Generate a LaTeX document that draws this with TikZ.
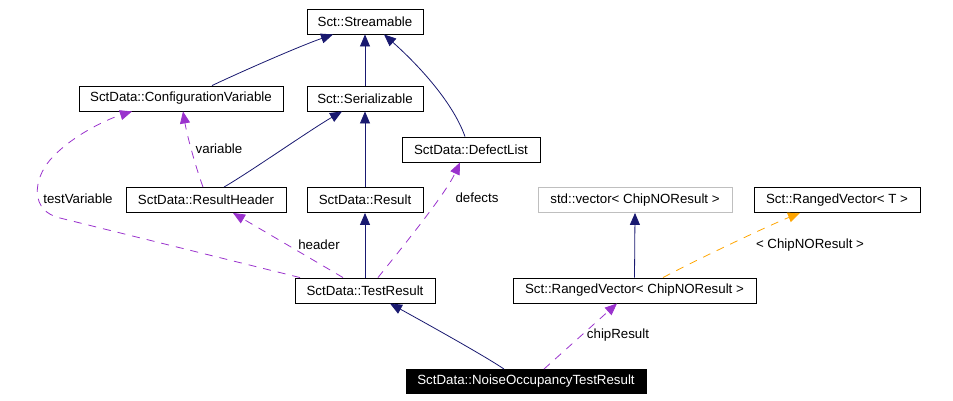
\documentclass[tikz,border=0pt]{standalone}
\usepackage{fontspec}
\setmainfont{Liberation Sans}
\usetikzlibrary{arrows.meta}
\definecolor{navy}{HTML}{191970}
\definecolor{orch}{HTML}{9A32CD}
\definecolor{orng}{HTML}{FFA500}
\definecolor{grayb}{HTML}{BFBFBF}
\tikzset{
  cls/.style={draw=black, line width=0.9pt, minimum height=25pt, inner sep=0pt, font=\fontsize{13.3}{16}\selectfont, fill=white},
  lbl/.style={inner sep=0pt, font=\fontsize{13.3}{16}\selectfont},
  inh/.style={draw=navy, line width=0.8pt, -{Triangle[length=12pt,width=10pt]}},
  use/.style={draw=orch, line width=0.8pt, dash pattern=on 8pt off 7pt, -{Triangle[length=12pt,width=10pt]}},
  tpl/.style={draw=orng, line width=0.8pt, dash pattern=on 8pt off 7pt, -{Triangle[length=12pt,width=10pt]}},
}
\begin{document}
\begin{tikzpicture}[x=1pt,y=-1pt]
\useasboundingbox (0,0) rectangle (953,401);
\node[cls, minimum width=116pt] (stream) at (365,21.5) {Sct::Streamable};
\node[cls, minimum width=204pt] (config) at (181,98.5) {SctData::ConfigurationVariable};
\node[cls, minimum width=116pt] (serial) at (365,98.5) {Sct::Serializable};
\node[cls, minimum width=138pt] (defect) at (471,149.5) {SctData::DefectList};
\node[cls, minimum width=160pt] (rheader) at (206,200) {SctData::ResultHeader};
\node[cls, minimum width=116pt] (result) at (365,200) {SctData::Result};
\node[cls, draw=grayb, minimum width=194pt] (svec) at (635,200) {std::vector< ChipNOResult >};
\node[cls, minimum width=166pt] (rvT) at (837,200) {Sct::RangedVector< T >};
\node[cls, minimum width=140pt] (test) at (365,290.5) {SctData::TestResult};
\node[cls, minimum width=243pt] (rvC) at (634.5,290.5) {Sct::RangedVector< ChipNOResult >};
\node[cls, fill=black, text=white, minimum width=240pt, minimum height=24pt] (noise) at (526,381.5) {SctData::NoiseOccupancyTestResult};

% inheritance
\draw[inh] ([xshift=31pt]config.north) .. controls (245,70) and (300,46) .. ([xshift=-32pt]stream.south);
\draw[inh] (serial.north) -- (stream.south);
\draw[inh] ([xshift=-6pt]defect.north) .. controls (452,100) and (415,62) .. ([xshift=19pt]stream.south);
\draw[inh] ([xshift=18pt]rheader.north) .. controls (250,172) and (310,130) .. ([xshift=-23pt]serial.south);
\draw[inh] (result.north) -- (serial.south);
\draw[inh] (test.north) -- (result.south);
\draw[inh] ([xshift=-22pt]noise.north) .. controls (485,356) and (420,320) .. ([xshift=25pt]test.south);
\draw[inh] (rvC.north) -- (svec.south);

% template
\draw[tpl] ([xshift=28.5pt]rvC.north) .. controls (700,258) and (770,225) .. ([xshift=-37pt]rvT.south);
\node[lbl] (lt) at (810,245) {< ChipNOResult >};

% usage
\draw[use] ([xshift=18pt]noise.north) -- ([xshift=-17.5pt]rvC.south);
\node[lbl] (lc) at (618,335) {chipResult};
\draw[use] ([xshift=13pt]test.north) .. controls (400,250) and (445,195) .. ([xshift=-11pt]defect.south);
\node[lbl] (ld) at (477,198) {defects};
\draw[use] ([xshift=-22pt]test.north) -- ([xshift=27pt]rheader.south);
\node[lbl] (lh) at (319,245) {header};
\draw[use] ([xshift=-65pt]test.north) -- (60,218) .. controls (30,211) and (33,180) .. (50,160) .. controls (70,137) and (105,120) .. ([xshift=-49pt]config.south);
\node[lbl] (ltv) at (78,199) {testVariable};
\draw[use] ([xshift=-3pt]rheader.north) .. controls (195,165) and (187,135) .. ([xshift=2pt]config.south);
\node[lbl] (lv) at (219,149) {variable};
\end{tikzpicture}
\end{document}
